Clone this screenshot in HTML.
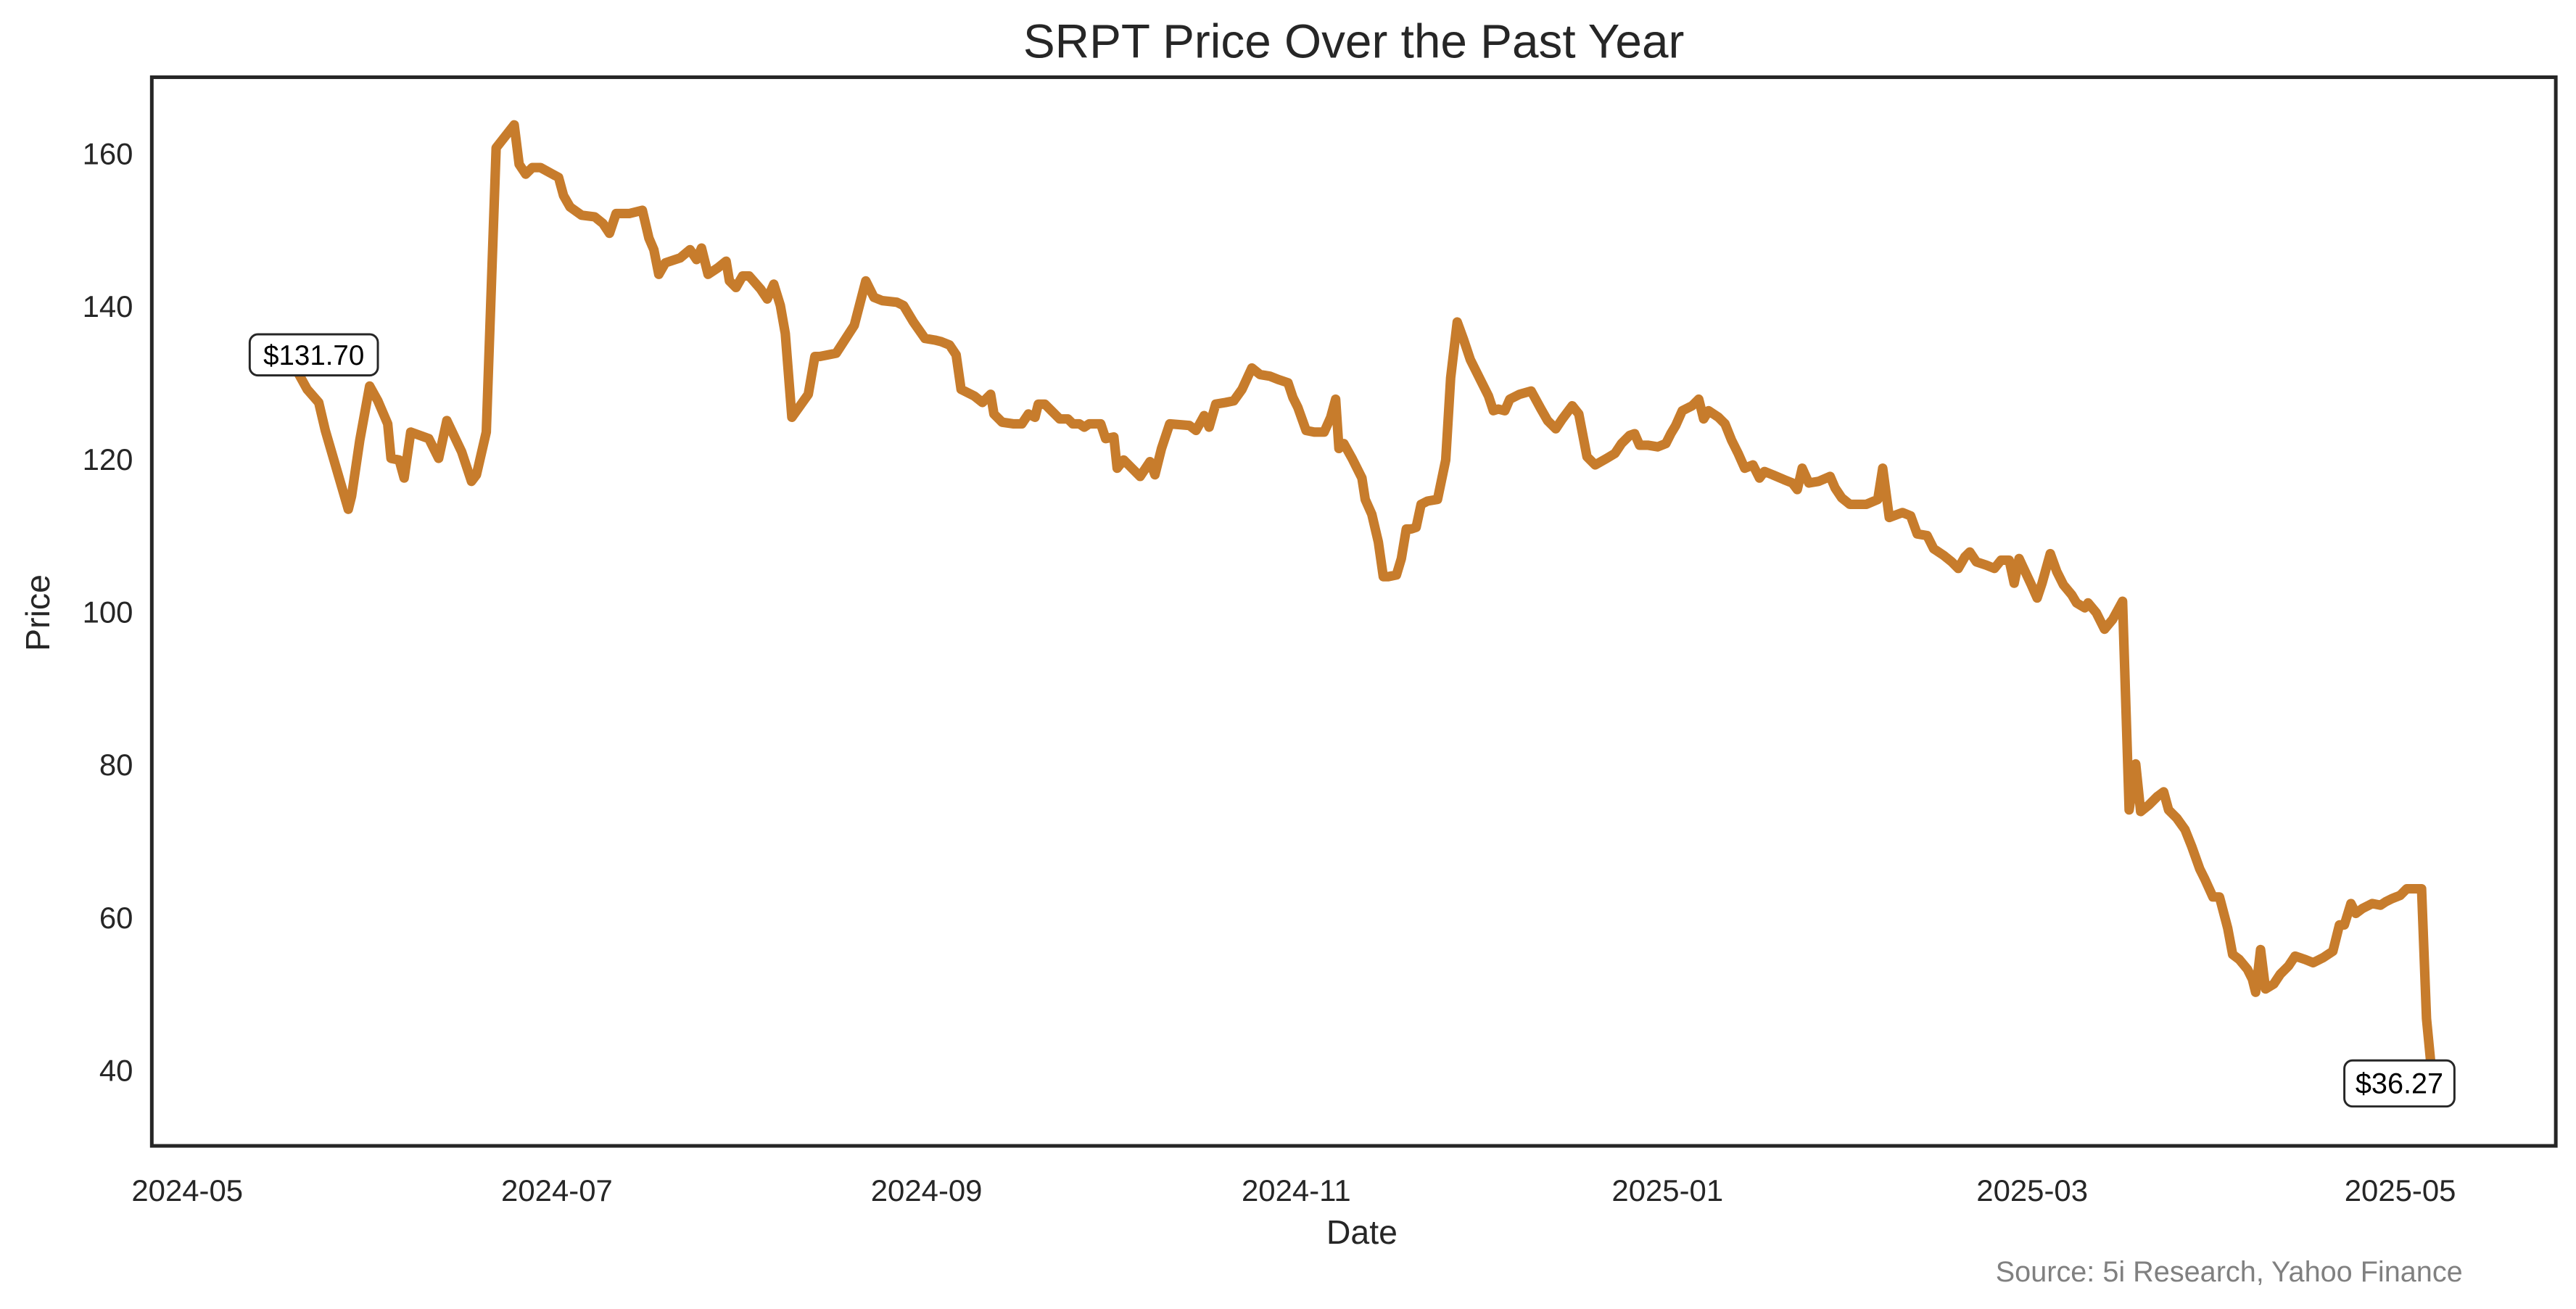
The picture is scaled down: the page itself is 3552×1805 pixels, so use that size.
<!DOCTYPE html>
<html><head><meta charset="utf-8"><style>
html,body{margin:0;padding:0;background:#fff;}
svg{display:block;}
text{font-family:"Liberation Sans",Arial,sans-serif;}
</style></head><body>
<svg width="3552" height="1805" viewBox="0 0 1568 796.8" preserveAspectRatio="none" xmlns="http://www.w3.org/2000/svg">
<rect x="0" y="0" width="1568" height="796.8" fill="#fff"/>
<text x="824" y="35" font-size="29" text-anchor="middle" fill="#262626">SRPT Price Over the Past Year</text>
<polyline fill="none" stroke="#c77c2c" stroke-width="5.8" stroke-linejoin="round" stroke-linecap="round" points="182,228 187,237 194,245 198,262 212,310 214,302 219,268 225,235 230,244 236,258 238,279 243,280 246,291 250,263 261,267 267,279 272,256 281,275 287,293 290,289 296,263 302,90 313,76 316,100 320,106 324,102 329,102 340,108 343,119 347,126 354,131 362,132 367,136 371,142 375,130 383,130 391,128 395,145 398,152 401,167 405,160 414,157 420,152 424,158 427,151 431,167 437,163 442,159 444,171 448,175 452,168 456,168 463,176 467,182 471,173 475,186 478,203 482,254 492,240 496,217 499,217 504,216 509,215 520,198 527,171 532,181 537,183 546,184 550,186 556,196 563,206 569,207 573,208 578,210 582,216 585,237 593,241 598,245 601,242 603,240 605,252 610,257 617,258 622,258 626,252 630,254 632,246 636,246 640,250 645,255 650,255 653,258 657,258 660,260 663,258 670,258 673,267 678,266 680,285 684,280 689,285 694,290 700,281 703,289 707,273 712,258 724,259 728,262 733,253 736,260 740,246 746,245 751,244 756,237 762,224 767,228 773,229 778,231 784,233 787,242 790,248 795,262 800,263 806,263 810,254 813,243 815,273 818,270 823,279 829,291 831,304 835,313 839,330 842,351 845,351 850,350 853,340 856,322 859,322 862,321 865,307 869,305 875,304 880,280 883,230 887,196 891,207 895,219 901,231 906,241 909,250 912,249 916,250 919,243 925,240 932,238 938,249 942,256 947,261 951,255 957,247 961,252 966,278 971,283 978,279 983,276 987,270 992,265 995,264 998,271 1003,271 1009,272 1014,270 1017,264 1020,259 1024,250 1030,247 1034,243 1037,255 1040,250 1046,254 1050,258 1054,268 1058,276 1062,285 1067,283 1071,291 1074,287 1079,289 1086,292 1091,294 1094,298 1097,285 1101,294 1107,293 1114,290 1117,297 1121,303 1126,307 1136,307 1143,304 1146,285 1150,315 1158,312 1163,314 1167,325 1173,326 1177,334 1183,338 1188,342 1192,346 1196,339 1199,336 1203,342 1209,344 1214,346 1218,341 1223,341 1226,355 1229,340 1236,355 1240,364 1243,355 1248,337 1252,348 1256,356 1261,362 1264,367 1269,370 1271,367 1276,373 1281,383 1286,377 1292,366 1296,493 1300,465 1303,494 1308,490 1313,485 1317,482 1320,493 1325,498 1330,505 1334,515 1339,529 1342,535 1347,546 1351,546 1356,565 1359,581 1363,584 1368,590 1371,596 1373,604 1376,578 1379,602 1384,599 1388,593 1393,588 1397,582 1403,584 1408,586 1414,583 1420,579 1424,563 1427,563 1431,550 1434,556 1438,553 1444,550 1449,551 1452,549 1456,547 1461,545 1465,541 1470,541 1474,541 1477,620 1480,651"/>
<rect x="92.4" y="47" width="1463.3" height="650.5" fill="none" stroke="#262626" stroke-width="2.2"/>
<rect x="152" y="203.5" width="78" height="25" rx="5" fill="#fff" stroke="#262626" stroke-width="1.3"/>
<text x="191" y="222" font-size="17" text-anchor="middle" fill="#000">$131.70</text>
<rect x="1427" y="645.5" width="67" height="28" rx="5" fill="#fff" stroke="#262626" stroke-width="1.3"/>
<text x="1460.5" y="665.5" font-size="17.5" text-anchor="middle" fill="#000">$36.27</text>
<g font-size="18.5" fill="#262626" text-anchor="end">
<text x="81" y="100">160</text><text x="81" y="193">140</text><text x="81" y="286">120</text><text x="81" y="379">100</text><text x="81" y="472">80</text><text x="81" y="565">60</text><text x="81" y="658">40</text>
</g>
<g font-size="18.5" fill="#262626" text-anchor="middle">
<text x="114" y="731">2024-05</text><text x="339" y="731">2024-07</text><text x="564" y="731">2024-09</text><text x="789" y="731">2024-11</text><text x="1015" y="731">2025-01</text><text x="1237" y="731">2025-03</text><text x="1461" y="731">2025-05</text>
</g>
<text x="829" y="757" font-size="20.5" text-anchor="middle" fill="#262626">Date</text>
<text transform="translate(30,373) rotate(-90)" font-size="20.5" text-anchor="middle" fill="#262626">Price</text>
<text x="1499" y="780" font-size="17.5" text-anchor="end" fill="#808080">Source: 5i Research, Yahoo Finance</text>
</svg>
</body></html>
